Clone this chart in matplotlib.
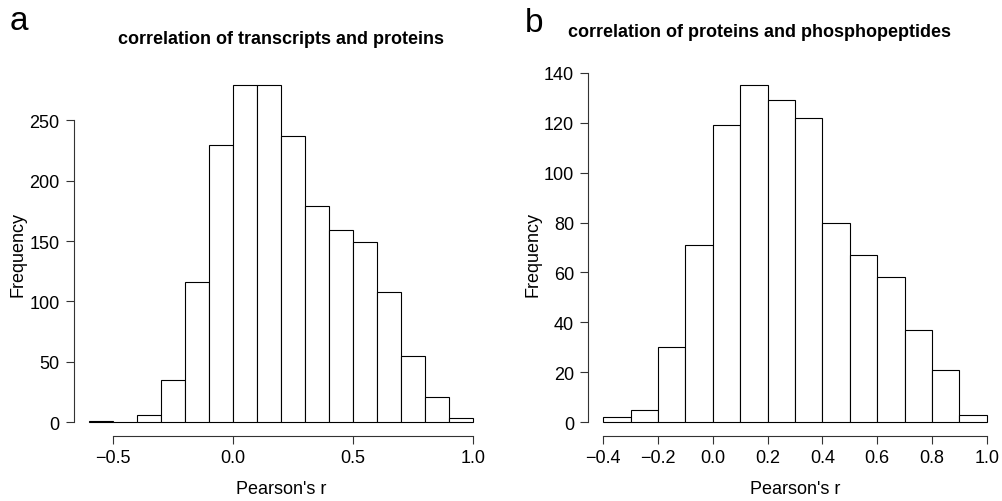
import numpy as np
import matplotlib
matplotlib.use("Agg")
import matplotlib.pyplot as plt

plt.rcParams['font.family'] = ['Liberation Sans', 'DejaVu Sans']

# histogram counts, bin width 0.1
edges_a = [-0.6, -0.5, -0.4, -0.3, -0.2, -0.1, 0.0, 0.1, 0.2, 0.3, 0.4, 0.5, 0.6, 0.7, 0.8, 0.9, 1.0]
counts_a = [1, 0, 6, 35, 116, 230, 279, 279, 237, 179, 159, 149, 108, 55, 21, 3]

edges_b = [-0.4, -0.3, -0.2, -0.1, 0.0, 0.1, 0.2, 0.3, 0.4, 0.5, 0.6, 0.7, 0.8, 0.9, 1.0]
counts_b = [2, 5, 30, 71, 119, 135, 129, 122, 80, 67, 58, 37, 21, 3]

xticks_a = [-0.5, 0.0, 0.5, 1.0]
yticks_a = [0, 50, 100, 150, 200, 250]
xticks_b = [-0.4, -0.2, 0.0, 0.2, 0.4, 0.6, 0.8, 1.0]
yticks_b = [0, 20, 40, 60, 80, 100, 120, 140]

W, H = 1002, 502
fig = plt.figure(figsize=(W / 100, H / 100), dpi=100)
fs = 13


def r_hist(ax, edges, counts, xticks, yticks):
    edges = np.asarray(edges)
    ax.bar(edges[:-1], counts, width=np.diff(edges), align='edge',
           facecolor='white', edgecolor='black', linewidth=0.8)
    # R-style 4% padding around the data range
    x0, x1 = edges[0], edges[-1]
    dx = 0.04 * (x1 - x0)
    ax.set_xlim(x0 - dx, x1 + dx)
    ym = max(counts)
    ax.set_ylim(-0.04 * ym, 1.04 * ym)
    ax.set_xticks(xticks)
    ax.set_xticklabels([f"{t:.1f}" .replace("-", "\u2212") for t in xticks])
    ax.set_yticks(yticks)
    ax.spines['top'].set_visible(False)
    ax.spines['right'].set_visible(False)
    ax.spines['left'].set_bounds(yticks[0], yticks[-1])
    ax.spines['bottom'].set_bounds(xticks[0], xticks[-1])
    for s in ('left', 'bottom'):
        ax.spines[s].set_linewidth(0.8)
        ax.spines[s].set_color('#333333')
    ax.tick_params(length=5.5, width=0.8, color='#333333', labelsize=fs)
    ax.tick_params(axis='x', pad=4)
    ax.tick_params(axis='y', pad=4.5)


bot = (H - 436.5) / H
hgt = 363.5 / H
ax1 = fig.add_axes([73.6 / W, bot, 414.8 / W, hgt])
ax2 = fig.add_axes([588 / W, bot, 414 / W, hgt])

r_hist(ax1, edges_a, counts_a, xticks_a, yticks_a)
r_hist(ax2, edges_b, counts_b, xticks_b, yticks_b)

# titles, axis labels and panel letters
fig.text(281 / W, 1 - 40 / H, "correlation of transcripts and proteins",
         ha='center', va='center', fontsize=fs, fontweight='bold')
fig.text(760 / W, 1 - 33 / H, "correlation of proteins and phosphopeptides",
         ha='center', va='center', fontsize=fs, fontweight='bold')

for cx in (281, 795):
    fig.text(cx / W, 1 - 490 / H, "Pearson's r", ha='center', va='center', fontsize=fs)
for cx in (18, 533):
    fig.text(cx / W, 1 - 254.75 / H, "Frequency", ha='center', va='center',
             rotation=90, fontsize=fs)

fig.text(10 / W, 1 - 30 / H, "a", ha='left', va='baseline', fontsize=24)
fig.text(525 / W, 1 - 32 / H, "b", ha='left', va='baseline', fontsize=24)

fig.savefig("out.png", dpi=100)
